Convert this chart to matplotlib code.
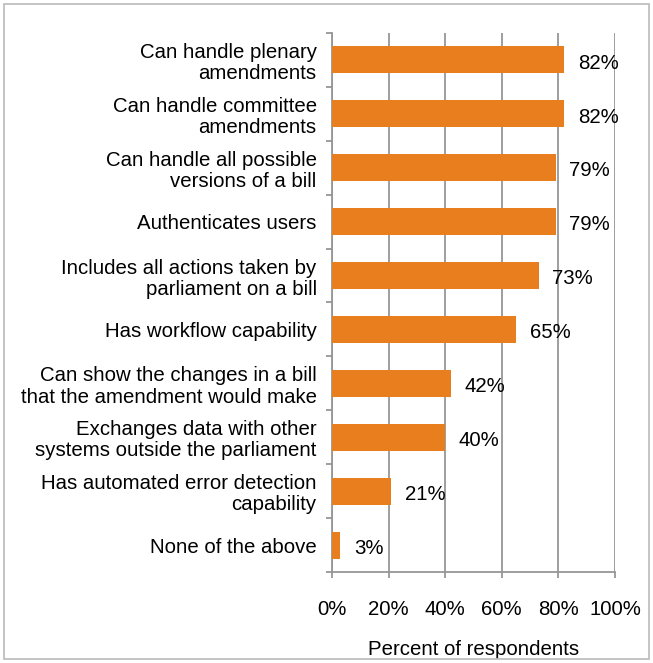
import matplotlib
matplotlib.use("Agg")
import matplotlib.pyplot as plt
from matplotlib.patches import Rectangle
from matplotlib.ticker import FixedLocator, NullFormatter

categories = [
    "Can handle plenary\namendments",
    "Can handle committee\namendments",
    "Can handle all possible\nversions of a bill",
    "Authenticates users",
    "Includes all actions taken by\nparliament on a bill",
    "Has workflow capability",
    "Can show the changes in a bill\nthat the amendment would make",
    "Exchanges data with other\nsystems outside the parliament",
    "Has automated error detection\ncapability",
    "None of the above",
]
values = [82, 82, 79, 79, 73, 65, 42, 40, 21, 3]
xticks = [0, 20, 40, 60, 80, 100]
xtick_labels = ["0%", "20%", "40%", "60%", "80%", "100%"]

plt.rcParams['font.family'] = ['Liberation Sans', 'DejaVu Sans']
W, H = 653, 663
FS = 14.7
fig = plt.figure(figsize=(W / 100, H / 100), dpi=100)
ax = fig.add_axes([332 / W, 1 - 572 / H, 283 / W, (572 - 33) / H])

grid_c = "#969696"
orange = "#E87E1E"
n = len(categories)
ypos = list(range(n))
ax.barh(ypos, values, height=0.5, color=orange, zorder=3)
ax.set_ylim(n - 0.5, -0.5)
ax.set_xlim(0, 100)

for y, v in zip(ypos, values):
    ax.text(v + 4.8, y + 0.06, f"{v}%", va="center", ha="left", fontsize=FS, color="#000000", zorder=4)

ax.set_xticks(xticks)
ax.set_xticklabels(xtick_labels, fontsize=FS)
ax.tick_params(axis="x", length=4.5, color=grid_c, width=1.3, pad=16)
ax.xaxis.grid(True, color=grid_c, linewidth=1.3, zorder=0)
ax.set_axisbelow(True)

ax.set_yticks(ypos)
ax.set_yticklabels(categories, fontsize=FS, linespacing=1.15)
ax.tick_params(axis="y", length=0, pad=11)
ax.yaxis.set_minor_locator(FixedLocator([i - 0.5 for i in range(n + 1)]))
ax.yaxis.set_minor_formatter(NullFormatter())
ax.tick_params(axis="y", which="minor", length=4.5, color=grid_c, width=1.3)

for s in ["top", "right"]:
    ax.spines[s].set_visible(False)
for s in ["left", "bottom"]:
    ax.spines[s].set_color(grid_c)
    ax.spines[s].set_linewidth(1.3)

ax.set_xlabel("Percent of respondents", fontsize=FS, labelpad=15)

fig.patches.append(Rectangle((4 / W, 4 / H), (W - 8) / W, (H - 8) / H, transform=fig.transFigure,
                             fill=False, edgecolor="#BFBFBF", linewidth=1.3))

fig.savefig("out.png", dpi=100)
